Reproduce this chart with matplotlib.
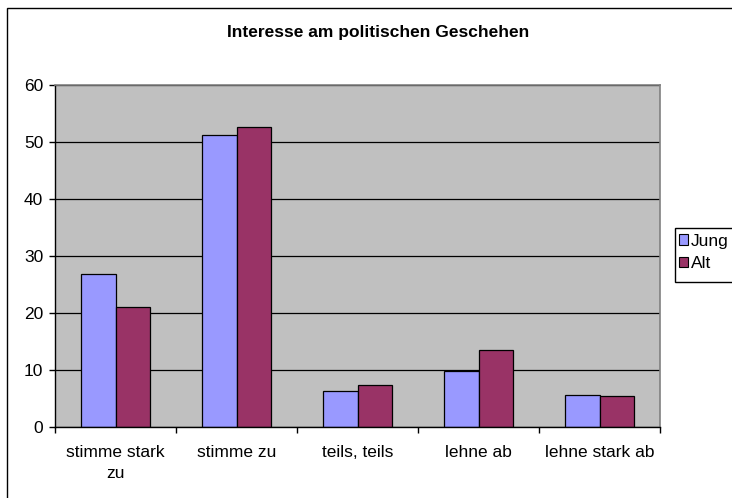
import matplotlib
matplotlib.use("Agg")
import matplotlib.pyplot as plt
import numpy as np
from matplotlib.patches import Rectangle, Patch

categories = ["stimme stark\nzu", "stimme zu", "teils, teils", "lehne ab", "lehne stark ab"]
jung = [26.9, 51.2, 6.4, 9.9, 5.7]
alt = [21.1, 52.6, 7.4, 13.5, 5.5]
series_names = ["Jung", "Alt"]
colors = ["#9999FF", "#993366"]
yticks = [0, 10, 20, 30, 40, 50, 60]
title = "Interesse am politischen Geschehen"

plt.rcParams['font.family'] = ['Liberation Sans', 'DejaVu Sans']
FS = 12.5

W, H = 732, 498
fig = plt.figure(figsize=(W/100, H/100), dpi=100)

# outer chart border (clipped on right/bottom)
fig.patches.append(Rectangle((7/W, -0.1), 1.2, 1 - 8/H + 0.1, transform=fig.transFigure,
                             fill=False, edgecolor="black", linewidth=1.0))

ax = fig.add_axes([55/W, 1 - 427/H, (660-55)/W, (427-85)/H])
ax.set_facecolor("#C0C0C0")

x = np.arange(len(categories))
bw = 1/3.5
ax.bar(x - bw/2, jung, width=bw, color=colors[0], edgecolor="black", linewidth=0.9, zorder=3)
ax.bar(x + bw/2, alt, width=bw, color=colors[1], edgecolor="black", linewidth=0.9, zorder=3)

ax.set_xlim(-0.5, len(categories) - 0.5)
ax.set_ylim(0, 60)
ax.set_yticks(yticks)
ax.yaxis.grid(True, color="black", linewidth=0.9, zorder=1)
ax.set_axisbelow(True)

ax.set_xticks(x)
ax.set_xticklabels(categories, fontsize=FS, linespacing=1.5, va="top")
ax.tick_params(axis="x", length=0, pad=13)
ax.set_xticks(np.arange(-0.5, len(categories), 1.0), minor=True)
ax.tick_params(axis="x", which="minor", length=4.5, width=1, direction="out", color="black")
ax.tick_params(axis="y", length=4.5, width=1, direction="out", labelsize=FS, pad=4)

for s in ["top", "right"]:
    ax.spines[s].set_color("#808080")
    ax.spines[s].set_linewidth(1.2)
for s in ["left", "bottom"]:
    ax.spines[s].set_color("black")
    ax.spines[s].set_linewidth(1.0)
ax.spines["bottom"].set_zorder(4)

fig.text(378/W, 1 - 32/H, title, ha="center", va="center", fontsize=FS, fontweight="bold")

# legend frame (extends past right edge, as in the reference)
fig.patches.append(Rectangle((675/W, 1 - 282/H), 0.2, 54/H, transform=fig.transFigure,
                             facecolor="white", edgecolor="black", linewidth=1.0))

handles = [Patch(facecolor=colors[0], edgecolor="black", linewidth=0.8),
           Patch(facecolor=colors[1], edgecolor="black", linewidth=0.8)]
leg = fig.legend(handles, series_names, loc="center left",
                 bbox_to_anchor=(675/W, 1 - 252.5/H),
                 fontsize=FS, handlelength=0.55, handleheight=0.55, handletextpad=0.15,
                 labelspacing=0.45, borderpad=0.22, borderaxespad=0, frameon=False)

fig.savefig("out.png", dpi=100)
